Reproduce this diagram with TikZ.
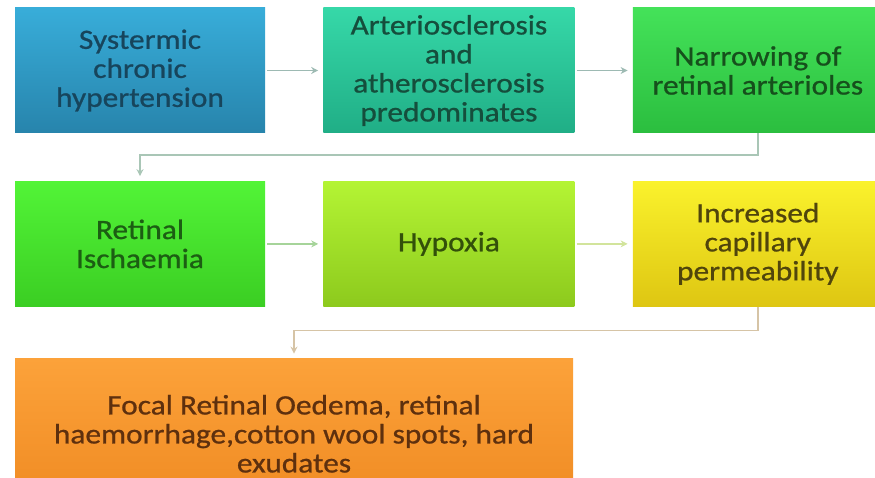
\documentclass[tikz,border=0pt]{standalone}
\usepackage{fontspec}
\setmainfont{Carlito}[FakeStretch=1.12,FakeBold=0.8]
\usetikzlibrary{arrows.meta,positioning}
\definecolor{skyA}{HTML}{38ADD9}
\definecolor{skyB}{HTML}{2784AC}
\definecolor{skyT}{HTML}{17455C}
\definecolor{seaA}{HTML}{36D8A8}
\definecolor{seaB}{HTML}{20AE86}
\definecolor{seaT}{HTML}{154E3C}
\definecolor{leafA}{HTML}{44E259}
\definecolor{leafB}{HTML}{2BBE3F}
\definecolor{leafT}{HTML}{16501C}
\definecolor{limeA}{HTML}{52F437}
\definecolor{limeB}{HTML}{3BCE23}
\definecolor{limeT}{HTML}{1C5E13}
\definecolor{pearA}{HTML}{B4F434}
\definecolor{pearB}{HTML}{8DCA1D}
\definecolor{pearT}{HTML}{33500A}
\definecolor{sunA}{HTML}{FAF22C}
\definecolor{sunB}{HTML}{DEC612}
\definecolor{sunT}{HTML}{50450C}
\definecolor{amberA}{HTML}{FCA23A}
\definecolor{amberB}{HTML}{EF8A22}
\definecolor{amberT}{HTML}{5E300E}
\definecolor{wireA}{HTML}{9DBAB3}
\definecolor{wireB}{HTML}{A9C6B6}
\definecolor{wireC}{HTML}{A6D49A}
\definecolor{wireD}{HTML}{D2E49C}
\definecolor{wireE}{HTML}{D6C4A6}
\tikzset{
  stage/.style={minimum width=250pt,minimum height=125pt,inner sep=0pt,align=center,
    font=\fontsize{28pt}{29pt}\selectfont},
  link/.style={-{Stealth[length=7pt,width=7pt]},line width=1.6pt,
    shorten <=2pt,shorten >=5pt}
}
\begin{document}
\begin{tikzpicture}[node distance=48pt and 58pt]
  \clip (0,0) rectangle (875pt,-478pt);
  \node[stage,top color=skyA,bottom color=skyB,text=skyT] (sys) at (140pt,-70.5pt)
    {Systermic\\chronic\\hypertension};
  \node[stage,right=of sys,minimum width=251pt,top color=seaA,bottom color=seaB,text=seaT] (art)
    {Arteriosclerosis\\and\\atherosclerosis\\predominates};
  \node[stage,right=of art,top color=leafA,bottom color=leafB,text=leafT] (nar)
    {Narrowing of\\retinal arterioles};

  \node[stage,below=of sys,top color=limeA,bottom color=limeB,text=limeT] (isc)
    {Retinal\\Ischaemia};
  \node[stage,right=of isc,minimum width=251pt,top color=pearA,bottom color=pearB,text=pearT] (hyp)
    {Hypoxia};
  \node[stage,right=of hyp,top color=sunA,bottom color=sunB,text=sunT] (per)
    {Increased\\capillary\\permeability};

  \node[stage,below=52pt of isc.south west,anchor=north west,minimum width=558pt,
    minimum height=150pt,top color=amberA,bottom color=amberB,text=amberT] (foc)
    {Focal Retinal Oedema, retinal\\haemorrhage,cotton wool spots, hard\\exudates};

  \draw[link,draw=wireA] (sys) -- (art);
  \draw[link,draw=wireA] (art) -- (nar);
  \draw[link,shorten <=0pt,draw=wireB] (nar.south) -- ++(0,-22pt) -| (isc.north);
  \draw[link,draw=wireC] (isc) -- (hyp);
  \draw[link,draw=wireD] (hyp) -- (per);
  \draw[link,shorten <=0pt,draw=wireE] (per.south) -- ++(0,-24pt) -| (foc.north);
\end{tikzpicture}
\end{document}
